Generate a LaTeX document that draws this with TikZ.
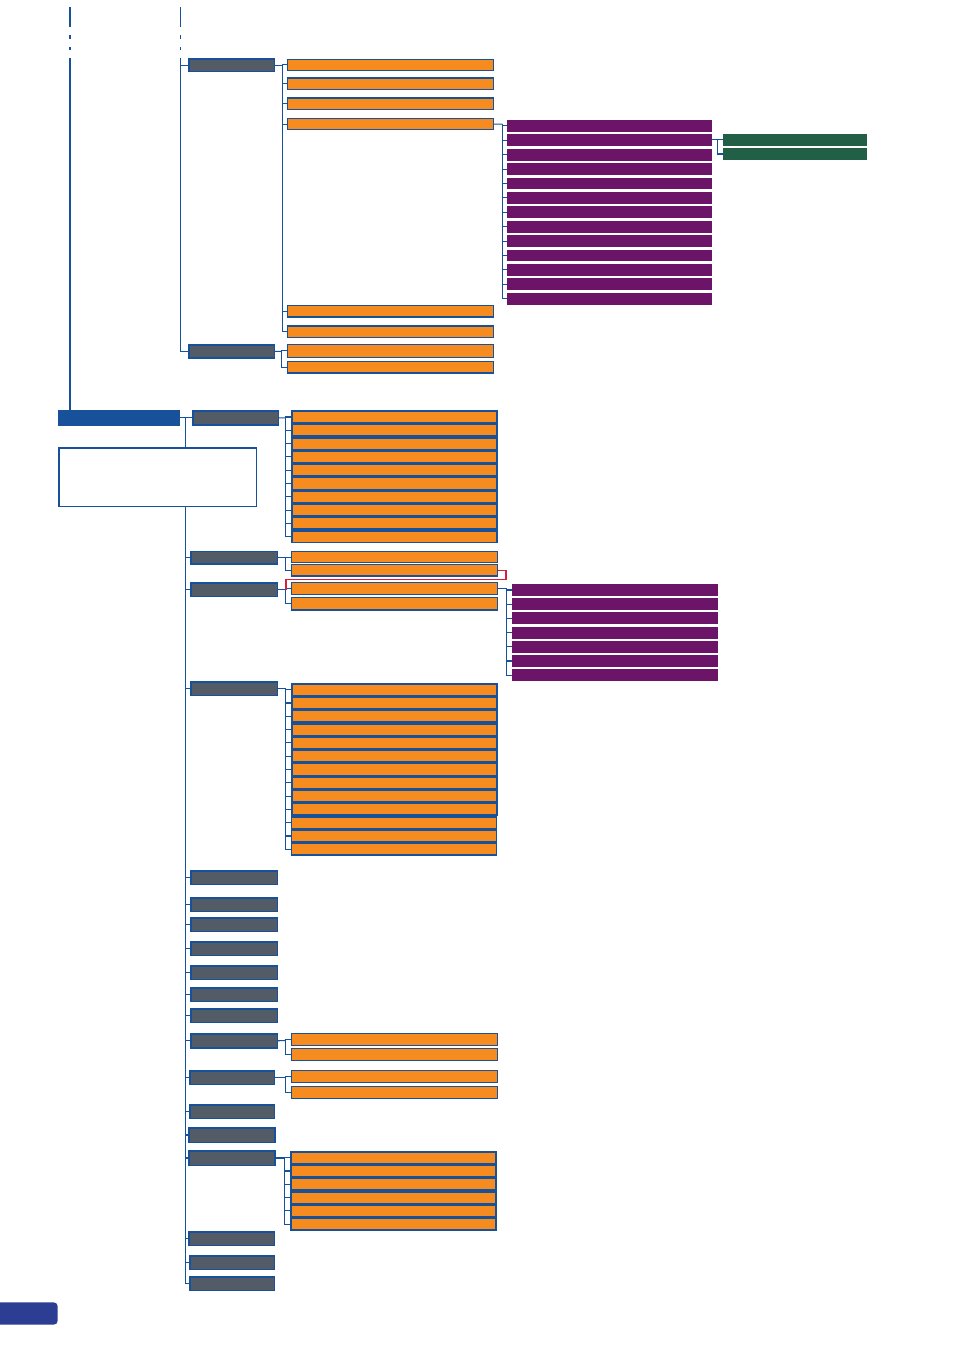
\documentclass[tikz,border=0pt]{standalone}
\usepackage{tikz}
\definecolor{lineblue}{RGB}{23,81,154}
\definecolor{slate}{RGB}{83,91,102}
\definecolor{menuorange}{RGB}{246,139,31}
\definecolor{menupurple}{RGB}{108,20,103}
\definecolor{menugreen}{RGB}{33,96,71}
\definecolor{linkred}{RGB}{216,30,62}
\definecolor{tabblue}{RGB}{43,62,148}
\tikzset{
  link/.style={draw=lineblue, line width=1.1pt},
  redlink/.style={draw=linkred, line width=1.6pt},
  greybox/.style={draw=lineblue, fill=slate, line width=1.5pt, anchor=north west, inner sep=0pt, minimum width=86.5, minimum height=13.5},
  obox/.style={draw=lineblue, fill=menuorange, line width=1.2pt, anchor=north west, inner sep=0pt, minimum width=205.5, minimum height=11.3},
  ostack/.style={obox, line width=1.6pt, minimum width=205.1, minimum height=11.7},
  pbox/.style={fill=menupurple, anchor=north west, inner sep=0pt, outer sep=0pt, minimum width=205, minimum height=11.7},
  gbox/.style={fill=menugreen, anchor=north west, inner sep=0pt, outer sep=0pt, minimum width=144, minimum height=12.5},
  hdrbox/.style={fill=lineblue, anchor=north west, inner sep=0pt, outer sep=0pt, minimum width=122, minimum height=15.7},
  notebox/.style={draw=lineblue, fill=white, line width=1.2pt, anchor=north west, inner sep=0pt, minimum width=197.8, minimum height=58.8}
}
\begin{document}
\begin{tikzpicture}[x=1pt,y=-1pt]
\useasboundingbox (0,0) rectangle (954,1350);

\node[greybox, minimum width=85.5, minimum height=12.8] (g1) at (188,58) {};
\node[obox] (o1a) at (287,58.5) {};
\node[obox] (o1b) at (287,77.3) {};
\node[obox] (o1c) at (287,97.3) {};
\node[obox] (o1d) at (287,117.8) {};
\node[obox] (o1e) at (287,305) {};
\node[obox] (o1f) at (287,325.3) {};

\node[pbox] (p1) at (507,120) {};
\node[pbox] (p2) at (507,134.4) {};
\node[pbox] (p3) at (507,148.8) {};
\node[pbox] (p4) at (507,163.2) {};
\node[pbox] (p5) at (507,177.6) {};
\node[pbox] (p6) at (507,192) {};
\node[pbox] (p7) at (507,206.4) {};
\node[pbox] (p8) at (507,220.8) {};
\node[pbox] (p9) at (507,235.2) {};
\node[pbox] (p10) at (507,249.6) {};
\node[pbox] (p11) at (507,264) {};
\node[pbox] (p12) at (507,278.4) {};
\node[pbox] (p13) at (507,292.8) {};

\node[gbox] (q1) at (723,133.5) {};
\node[gbox, minimum height=12] (q2) at (723,148) {};

\node[greybox, minimum width=85.5, minimum height=13.2] (g2) at (188,344) {};
\node[obox, minimum height=12.5] (o2a) at (287,344) {};
\node[obox] (o2b) at (287,361) {};

\node[hdrbox] (hdr) at (58,410) {};
\node[greybox, minimum width=85.5, minimum height=14.2] (g3) at (192,410) {};
\node[ostack] (o3a) at (291,410.3) {};
\node[ostack] (o3b) at (291,423.6) {};
\node[ostack] (o3c) at (291,436.9) {};
\node[ostack] (o3d) at (291,450.2) {};
\node[ostack] (o3e) at (291,463.5) {};
\node[ostack] (o3f) at (291,476.8) {};
\node[ostack] (o3g) at (291,490.1) {};
\node[ostack] (o3h) at (291,503.4) {};
\node[ostack] (o3i) at (291,516.7) {};
\node[ostack] (o3j) at (291,530) {};

\node[greybox, minimum height=12.5] (g4) at (190,550.7) {};
\node[obox, line width=1.4pt] (o4a) at (291,550.7) {};
\node[obox, line width=1.4pt] (o4b) at (291,564) {};

\node[greybox, minimum height=13.8] (g5) at (190,582) {};
\node[obox, line width=1.4pt, minimum height=11.6] (o5a) at (291,582) {};
\node[obox, line width=1.4pt, minimum height=12.3] (o5b) at (291,597) {};

\node[pbox, minimum width=206, minimum height=12] (r1) at (512,584) {};
\node[pbox, minimum width=206, minimum height=12] (r2) at (512,598.2) {};
\node[pbox, minimum width=206, minimum height=12] (r3) at (512,612.4) {};
\node[pbox, minimum width=206, minimum height=12] (r4) at (512,626.6) {};
\node[pbox, minimum width=206, minimum height=12] (r5) at (512,640.8) {};
\node[pbox, minimum width=206, minimum height=12] (r6) at (512,655) {};
\node[pbox, minimum width=206, minimum height=12] (r7) at (512,669.2) {};

\node[greybox] (g6) at (190,681) {};
\node[ostack] (o6a) at (291,683) {};
\node[ostack] (o6b) at (291,696.3) {};
\node[ostack] (o6c) at (291,709.6) {};
\node[ostack] (o6d) at (291,722.9) {};
\node[ostack] (o6e) at (291,736.2) {};
\node[ostack] (o6f) at (291,749.5) {};
\node[ostack] (o6g) at (291,762.8) {};
\node[ostack] (o6h) at (291,776.1) {};
\node[ostack] (o6i) at (291,789.4) {};
\node[ostack] (o6j) at (291,802.7) {};
\node[ostack] (o6k) at (290.5,816) {};
\node[ostack] (o6l) at (290.5,829.3) {};
\node[ostack] (o6m) at (290.5,842.6) {};

\node[greybox, minimum height=13.8] (g7) at (190,870) {};
\node[greybox] (g8) at (190,897) {};
\node[greybox] (g9) at (190,917) {};
\node[greybox] (g10) at (190,941) {};
\node[greybox] (g11) at (190,965) {};
\node[greybox] (g12) at (190,987) {};
\node[greybox] (g13) at (190,1008) {};

\node[greybox, minimum height=14] (g14) at (190,1033) {};
\node[obox, minimum height=11.7] (o14a) at (291,1033) {};
\node[obox, minimum height=11.7] (o14b) at (291,1048) {};

\node[greybox, minimum width=84.5] (g15) at (189,1070) {};
\node[obox, minimum height=11.7] (o15a) at (291,1070) {};
\node[obox, minimum height=11.7] (o15b) at (291,1086) {};

\node[greybox, minimum width=84.5] (g16) at (189,1104) {};
\node[greybox, minimum width=85.9, minimum height=14.5] (g17) at (188.3,1127) {};
\node[greybox, minimum width=85.9, minimum height=14.5] (g18) at (188.3,1150) {};
\node[ostack, minimum width=204.8] (o18a) at (290.3,1151) {};
\node[ostack, minimum width=204.8] (o18b) at (290.3,1164.3) {};
\node[ostack, minimum width=204.8] (o18c) at (290.3,1177.6) {};
\node[ostack, minimum width=204.8] (o18d) at (290.3,1190.9) {};
\node[ostack, minimum width=204.8] (o18e) at (290.3,1204.2) {};
\node[ostack, minimum width=204.8] (o18f) at (290.3,1217.5) {};

\node[greybox, minimum width=85.5] (g19) at (188.3,1231) {};
\node[greybox, minimum width=84.5] (g20) at (189,1255) {};
\node[greybox, minimum width=84.5] (g21) at (189,1276) {};

\coordinate (lefttop) at (70,7);
\coordinate (sectop) at (180.3,7);
\draw[link, line width=1.8pt, dash pattern=on 19.7pt off 8.3pt on 3.7pt off 8.3pt on 3pt off 8pt on 500pt] (lefttop) -- (lefttop |- hdr.north);
\draw[link, dash pattern=on 19.7pt off 8.3pt on 3.7pt off 8.3pt on 3pt off 8pt on 500pt] (sectop) -- (sectop |- g2.west) -- (g2.west);
\draw[link] (sectop |- g1.west) -- (g1.west);

\coordinate (t1) at (282.3,65.15);
\draw[link] (g1.east) -- (t1);
\draw[link] (t1) |- (o1a.west);
\draw[link] (t1) |- (o1b.west);
\draw[link] (t1) |- (o1c.west);
\draw[link] (t1) |- (o1d.west);
\draw[link] (t1) |- (o1e.west);
\draw[link] (t1) |- (o1f.west);

\coordinate (tp1) at (502.3,124.05);
\draw[link] (o1d.east) -- (tp1);
\draw[link] (tp1) |- (p1.west);
\draw[link] (tp1) |- (p2.west);
\draw[link] (tp1) |- (p3.west);
\draw[link] (tp1) |- (p4.west);
\draw[link] (tp1) |- (p5.west);
\draw[link] (tp1) |- (p6.west);
\draw[link] (tp1) |- (p7.west);
\draw[link] (tp1) |- (p8.west);
\draw[link] (tp1) |- (p9.west);
\draw[link] (tp1) |- (p10.west);
\draw[link] (tp1) |- (p11.west);
\draw[link] (tp1) |- (p12.west);
\draw[link] (tp1) |- (p13.west);

\coordinate (tq) at (717.7,139.6);
\draw[link] (p2.east |- tq) -- (tq);
\draw[link] (tq) |- (q1.west);
\draw[link] (tq) |- (q2.west);

\coordinate (t2) at (281.5,351.35);
\draw[link] (g2.east) -- (t2);
\draw[link] (t2) |- (o2a.west);
\draw[link] (t2) |- (o2b.west);

\coordinate (mtrunk) at (185.5,417.85);
\draw[link] (hdr.east) -- (g3.west);
\draw[link] (mtrunk) |- (g4.west);
\draw[link] (mtrunk) |- (g5.west);
\draw[link] (mtrunk) |- (g6.west);
\draw[link] (mtrunk) |- (g7.west);
\draw[link] (mtrunk) |- (g8.west);
\draw[link] (mtrunk) |- (g9.west);
\draw[link] (mtrunk) |- (g10.west);
\draw[link] (mtrunk) |- (g11.west);
\draw[link] (mtrunk) |- (g12.west);
\draw[link] (mtrunk) |- (g13.west);
\draw[link] (mtrunk) |- (g14.west);
\draw[link] (mtrunk) |- (g15.west);
\draw[link] (mtrunk) |- (g16.west);
\draw[link] (mtrunk) |- (g17.west);
\draw[link] (mtrunk) |- (g18.west);
\draw[link] (mtrunk) |- (g19.west);
\draw[link] (mtrunk) |- (g20.west);
\draw[link] (mtrunk) |- (g21.west);

\coordinate (t3) at (285.5,417.85);
\draw[link] (g3.east) -- (t3);
\draw[link] (t3) |- (o3a.west);
\draw[link] (t3) |- (o3b.west);
\draw[link] (t3) |- (o3c.west);
\draw[link] (t3) |- (o3d.west);
\draw[link] (t3) |- (o3e.west);
\draw[link] (t3) |- (o3f.west);
\draw[link] (t3) |- (o3g.west);
\draw[link] (t3) |- (o3h.west);
\draw[link] (t3) |- (o3i.west);
\draw[link] (t3) |- (o3j.west);

\coordinate (t4) at (285.7,557.7);
\draw[link] (g4.east) -- (t4);
\draw[link] (t4) |- (o4a.west);
\draw[link] (t4) |- (o4b.west);

\coordinate (t5) at (285.7,589.65);
\draw[link] (g5.east) -- (t5);
\draw[link] (t5) |- (o5a.west);
\draw[link] (t5) |- (o5b.west);
\draw[redlink] (o4b.east) -- ++(8,0) -- ++(0,9.3) -| (t5);

\coordinate (tp2) at (506.7,588.5);
\draw[link] (o5a.east) -- (tp2);
\draw[link] (tp2) |- (r1.west);
\draw[link] (tp2) |- (r2.west);
\draw[link] (tp2) |- (r3.west);
\draw[link] (tp2) |- (r4.west);
\draw[link] (tp2) |- (r5.west);
\draw[link] (tp2) |- (r6.west);
\draw[link] (tp2) |- (r7.west);

\coordinate (t6) at (285.7,688.5);
\draw[link] (g6.east) -- (t6);
\draw[link] (t6) |- (o6a.west);
\draw[link] (t6) |- (o6b.west);
\draw[link] (t6) |- (o6c.west);
\draw[link] (t6) |- (o6d.west);
\draw[link] (t6) |- (o6e.west);
\draw[link] (t6) |- (o6f.west);
\draw[link] (t6) |- (o6g.west);
\draw[link] (t6) |- (o6h.west);
\draw[link] (t6) |- (o6i.west);
\draw[link] (t6) |- (o6j.west);
\draw[link] (t6) |- (o6k.west);
\draw[link] (t6) |- (o6l.west);
\draw[link] (t6) |- (o6m.west);

\coordinate (t14) at (285.3,1040.5);
\draw[link] (g14.east) -- (t14);
\draw[link] (t14) |- (o14a.west);
\draw[link] (t14) |- (o14b.west);

\coordinate (t15) at (285.3,1077.5);
\draw[link] (g15.east) -- (t15);
\draw[link] (t15) |- (o15a.west);
\draw[link] (t15) |- (o15b.west);

\coordinate (t18) at (284.3,1158);
\draw[link] (g18.east) -- (t18);
\draw[link] (t18) |- (o18a.west);
\draw[link] (t18) |- (o18b.west);
\draw[link] (t18) |- (o18c.west);
\draw[link] (t18) |- (o18d.west);
\draw[link] (t18) |- (o18e.west);
\draw[link] (t18) |- (o18f.west);

\node[notebox] (note) at (58.3,447.3) {};

\fill[tabblue, rounded corners=4] (-8,1302.3) rectangle (57.7,1324.7);
\end{tikzpicture}
\end{document}
